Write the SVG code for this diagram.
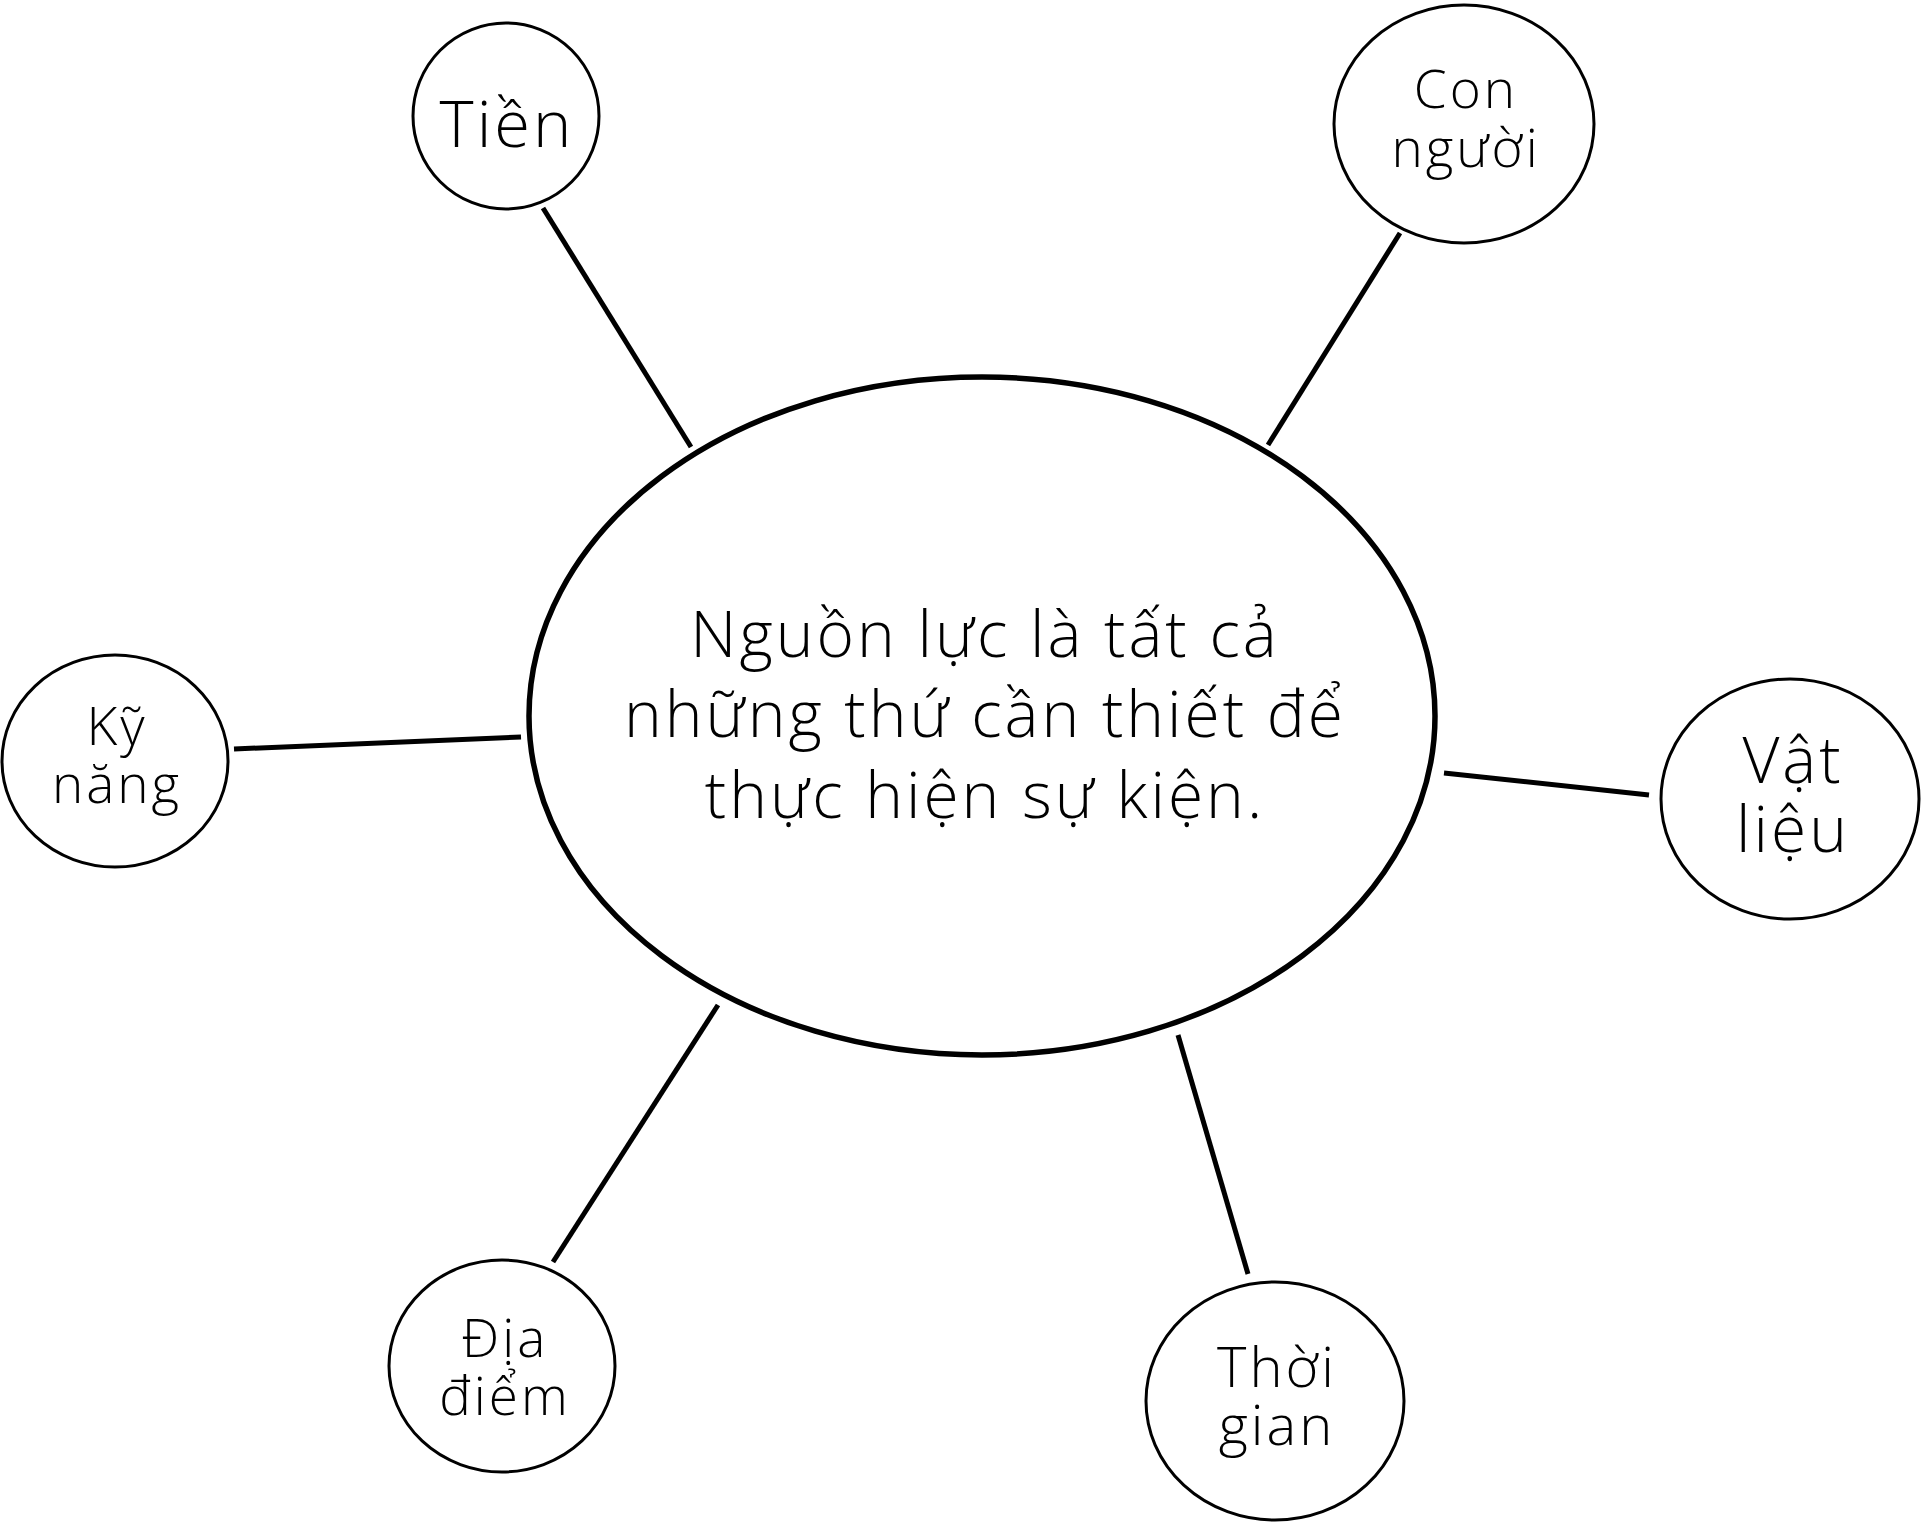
<svg xmlns="http://www.w3.org/2000/svg" width="1922" height="1527" viewBox="0 0 1922 1527">
<style>
.bg{fill:#fff}
.node{fill:#fff;stroke:#000;stroke-width:3}
.center{fill:#fff;stroke:#000;stroke-width:5.5}
.edge{stroke:#000;stroke-width:5;fill:none}
text{font-family:"Open Sans",Lato,"Liberation Sans",sans-serif;font-weight:300;fill:#000;text-anchor:middle;letter-spacing:3px}
</style>
<rect class="bg" x="0" y="0" width="1922" height="1527"/>
<g id="connectors">
<line class="edge" x1="543" y1="208" x2="691" y2="447"/>
<line class="edge" x1="1400" y1="233" x2="1268" y2="445"/>
<line class="edge" x1="234" y1="749" x2="521" y2="737"/>
<line class="edge" x1="1444" y1="773" x2="1649" y2="795"/>
<line class="edge" x1="553" y1="1262" x2="718" y2="1005"/>
<line class="edge" x1="1178" y1="1035" x2="1248" y2="1274"/>
</g>
<g id="center-node">
<ellipse class="center" cx="982" cy="716" rx="453" ry="339"/>
<text font-size="64" x="985" y="657">Nguồn lực là tất cả</text>
<text font-size="64" x="985" y="737">những thứ cần thiết để</text>
<text font-size="64" x="985" y="818">thực hiện sự kiện.</text>
</g>
<g id="node-tien">
<ellipse class="node" cx="506" cy="116" rx="93" ry="93"/>
<text font-size="65" x="507" y="147">Tiền</text>
</g>
<g id="node-con-nguoi">
<ellipse class="node" cx="1464" cy="124" rx="130" ry="119"/>
<text font-size="53" x="1466" y="108">Con</text>
<text font-size="53" x="1466" y="167">người</text>
</g>
<g id="node-ky-nang">
<ellipse class="node" cx="115" cy="761" rx="113" ry="106"/>
<text font-size="53" x="117" y="745">Kỹ</text>
<text font-size="53" x="117" y="803">năng</text>
</g>
<g id="node-vat-lieu">
<ellipse class="node" cx="1790" cy="799" rx="129" ry="120"/>
<text font-size="64" x="1793" y="783">Vật</text>
<text font-size="64" x="1793" y="852">liệu</text>
</g>
<g id="node-dia-diem">
<ellipse class="node" cx="502" cy="1366" rx="113" ry="106"/>
<text font-size="53" x="505" y="1357">Địa</text>
<text font-size="53" x="505" y="1415">điểm</text>
</g>
<g id="node-thoi-gian">
<ellipse class="node" cx="1275" cy="1401" rx="129" ry="119"/>
<text font-size="56" x="1277" y="1387">Thời</text>
<text font-size="56" x="1277" y="1445">gian</text>
</g>
</svg>
